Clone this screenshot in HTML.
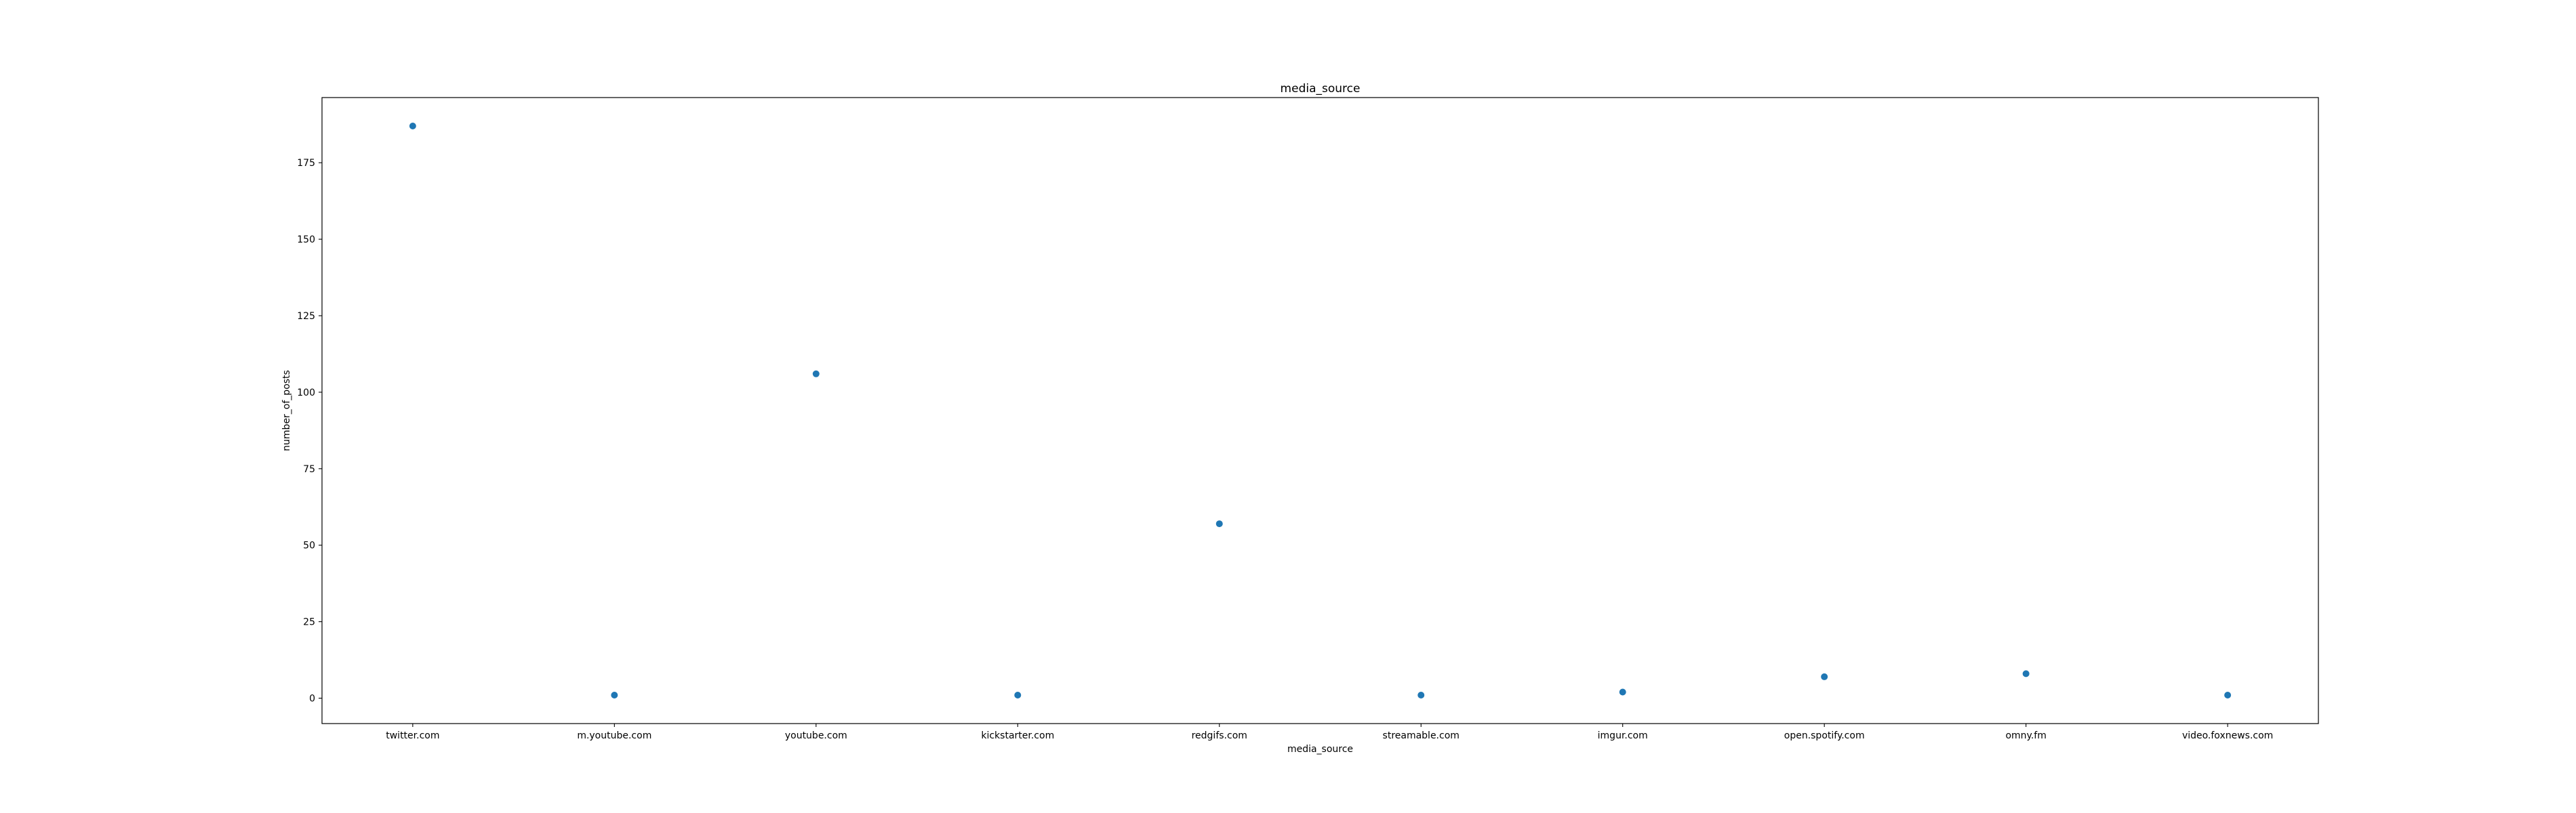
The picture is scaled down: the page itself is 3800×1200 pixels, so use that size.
<!DOCTYPE html>
<html><head><meta charset="utf-8"><style>body{margin:0;background:#fff}svg{display:block;font-family:"DejaVu Sans","Liberation Sans",sans-serif}</style></head>
<body>
<svg id="chart" width="3800" height="1200"></svg>
<script>
const categories = ["twitter.com","m.youtube.com","youtube.com","kickstarter.com","redgifs.com","streamable.com","imgur.com","open.spotify.com","omny.fm","video.foxnews.com"];
const postCounts = [187,1,106,1,57,1,2,7,8,1];
const yTicks = [0,25,50,75,100,125,150,175];

const L=475,R=3420,T=144,B=1068;
const svg=document.getElementById('chart');
const NS='http://www.w3.org/2000/svg';
function mk(tag,attrs,parent){const e=document.createElementNS(NS,tag);for(const k in attrs)e.setAttribute(k,attrs[k]);(parent||svg).appendChild(e);return e;}
const n=categories.length;
const xMin=-0.45,xMax=(n-1)+0.45;
const dMin=Math.min(...postCounts),dMax=Math.max(...postCounts);
const pad=(dMax-dMin)*0.05;
const yMin=dMin-pad,yMax=dMax+pad;
const xS=i=>L+(i-xMin)/(xMax-xMin)*(R-L);
const yS=v=>B-(v-yMin)/(yMax-yMin)*(B-T);

const title=mk('text',{x:(L+R)/2,y:T-8,'text-anchor':'middle','font-size':17});
title.textContent='media_source';



yTicks.forEach(v=>{
  const y=yS(v);
  const tk=mk('line',{x1:L-5,x2:L,y1:y,y2:y,stroke:'#000','stroke-width':1.1});
  
  
  const t=mk('text',{x:L-10,y:y+5,'text-anchor':'end','font-size':14});
  t.textContent=v;
  
  
});
categories.forEach((c,i)=>{
  const x=xS(i);
  const tk=mk('line',{x1:x,x2:x,y1:B,y2:B+5,stroke:'#000','stroke-width':1.1});
  
  
  const t=mk('text',{x:x,y:B+22,'text-anchor':'middle','font-size':14});
  t.textContent=c;
  
  
});
postCounts.forEach((v,i)=>{
  const p=mk('circle',{cx:xS(i),cy:yS(v),r:5,fill:'#1f77b4'});
  
  
});
const frame=mk('rect',{x:L,y:T,width:R-L,height:B-T,fill:'none',stroke:'#000','stroke-width':1.2});



const xt=mk('text',{x:(L+R)/2,y:B+42,'text-anchor':'middle','font-size':14});
xt.textContent='media_source';


const yt=mk('text',{x:0,y:0,'text-anchor':'middle','font-size':14,transform:`translate(${L-48},${(T+B)/2}) rotate(-90)`});
yt.textContent='number_of_posts';


</script>
</body></html>
